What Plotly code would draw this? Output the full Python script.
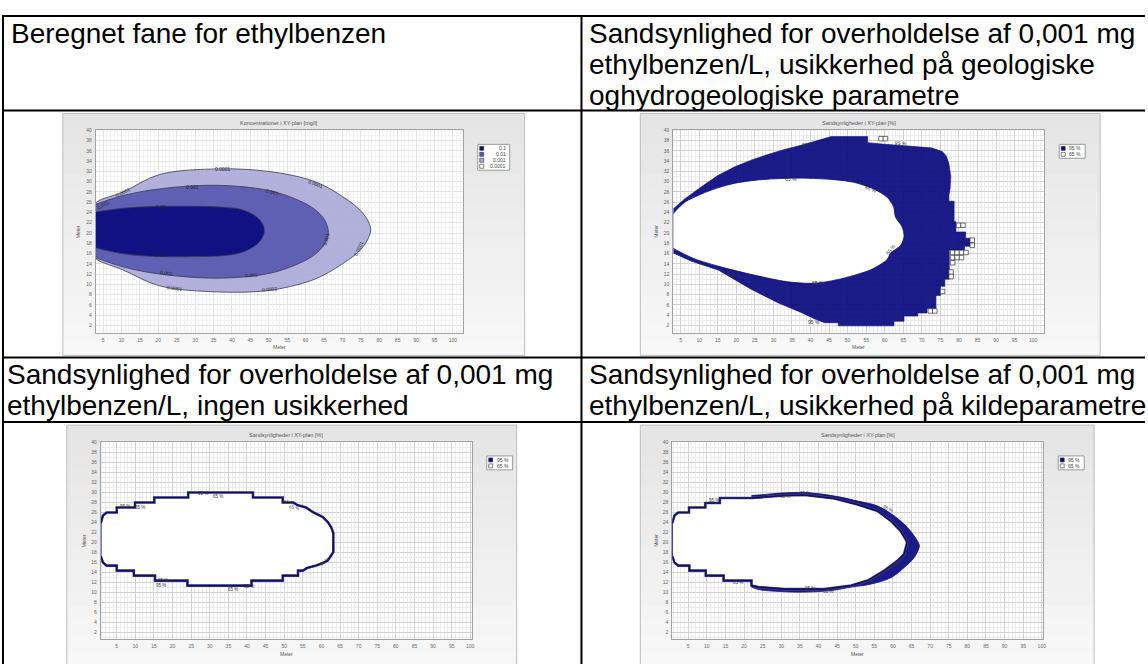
import plotly.graph_objects as go

W, H = 1148, 664

# ---------------- data ----------------
# Header texts of the 2x2 table
row1_left = ["Beregnet fane for ethylbenzen"]
row1_right = ["Sandsynlighed for overholdelse af 0,001 mg",
              "ethylbenzen/L, usikkerhed på geologiske",
              "oghydrogeologiske parametre"]
row2_left = ["Sandsynlighed for overholdelse af 0,001 mg",
             "ethylbenzen/L, ingen usikkerhed"]
row2_right = ["Sandsynlighed for overholdelse af 0,001 mg",
              "ethylbenzen/L, usikkerhed på kildeparametre"]

title_conc = "Koncentrationer i XY-plan [mg/l]"
title_prob = "Sandsynligheder i XY-plan [%]"
axis_title = "Meter"

# Chart 1: concentration contours (x in m, upper / lower edge in m)
c1_x_0001 = [3, 4.1, 10.4, 20.3, 36.6, 50, 61, 66.2, 70, 73.2, 75.6, 77.0, 77.7]
c1_top_0001 = [25.9, 26.4, 28.0, 31.4, 32.5, 32.0, 30.4, 28.8, 27.1, 25.5, 23.8, 22.3, 20.6]
c1_bot_0001 = [15.0, 14.5, 12.8, 9.7, 8.5, 8.8, 10.6, 12.3, 14.0, 15.6, 17.3, 18.9, 20.6]
c1_x_001 = [3, 10.4, 20.3, 36, 50, 58, 62.5, 65.2, 66.2]
c1_top_001 = [25.6, 27.3, 28.6, 29.3, 28.3, 26.4, 24.6, 22.5, 20.0]
c1_bot_001 = [15.2, 13.4, 12.0, 11.2, 12.1, 14.0, 15.8, 17.9, 20.0]
c1_x_01 = [3, 10, 20, 30, 38, 43.4, 47.5, 48.8]
c1_top_01 = [24.1, 24.8, 25.2, 25.2, 25.0, 24.4, 22.6, 20.5]
c1_bot_01 = [17.1, 16.0, 15.4, 15.4, 15.6, 16.4, 18.3, 20.5]
c1_legend = ["0.1", "0.01", "0.001", "0.0001"]
c1_labels = [("0.0001", 37.5, 32.5, 0), ("0.0001", 10.4, 28.0, -25),
             ("0.0001", 62.8, 29.6, 20), ("0.0001", 74.5, 17.0, -65),
             ("0.0001", 24.4, 9.2, 8), ("0.0001", 50.2, 9.0, -5),
             ("0.001", 29.4, 29.0, 0), ("0.001", 51.0, 28.0, 12),
             ("0.001", 5.0, 25.4, -30), ("0.001", 65.5, 18.9, -75),
             ("0.001", 22.2, 12.2, 8), ("0.001", 45.2, 11.9, -5),
             ("0.01", 20.8, 25.1, 0), ("0.01", 20.4, 15.7, 0)]

# Chart 2: 95 % area, geological / hydrogeological uncertainty
c2_outer_x = [3, 6, 10.6, 15, 19.6, 24, 28.5, 33, 37.5, 42, 45.6, 55.4, 55.4, 60,
              64.4, 68.9, 72.5, 75.5, 76.6, 77.3, 77.8, 77.6, 77.3, 77.3, 78.7, 78.7,
              79.2, 79.2, 81.8, 81.8, 83.0, 83.0, 81.5, 81.5, 77.4, 77.4, 76.2, 76.2,
              75.0, 75.0, 73.8, 73.8, 71.4, 71.4, 68.9, 68.9, 65.2, 65.2, 62.5, 62.5,
              47.5, 47.5, 43.8, 41, 37.5, 31.2, 24.1, 15.1, 7.9, 3]
c2_outer_y = [24.7, 26.6, 29.0, 31.2, 32.9, 34.2, 35.3, 36.3, 37.1, 38.0, 38.8, 38.8, 37.6, 37.3,
              37.1, 36.9, 36.6, 35.9, 35.0, 33.5, 31.0, 28.5, 27.4, 26.2, 26.2, 22.2,
              22.2, 20.2, 20.2, 19.0, 19.0, 17.4, 17.4, 16.7, 16.7, 11.0, 11.0, 9.6,
              9.6, 7.8, 7.8, 5.3, 5.3, 4.4, 4.4, 3.8, 3.8, 2.8, 2.8, 1.9,
              1.9, 2.5, 2.5, 3.3, 4.5, 6.4, 9.0, 12.8, 14.5, 16.1]
c2_inner_x = [3, 6.1, 10.6, 15.0, 19.6, 24.1, 28.5, 37.5, 46.4, 51.6, 57, 60.6, 62.4,
              62.9, 64.7, 65.2, 64.3, 61.6, 60.6, 56.1, 47.2, 40.9, 33.7, 24.8, 15.8, 8.6, 3]
c2_inner_y = [23.8, 26.0, 27.6, 28.8, 29.7, 30.2, 30.5, 30.7, 30.4, 29.9, 28.6, 27.0, 25.1,
              23.1, 21.2, 19.3, 17.6, 16.1, 14.8, 12.8, 10.9, 10.2, 10.5, 11.8, 13.4, 15.0, 17.0]
c2_cells_x = [59.0, 60.2, 79.9, 81.1, 83.6, 83.6, 78.3, 79.5, 80.7, 81.9, 78.3, 79.5,
              80.7, 78.3, 77.9, 77.9, 75.6, 72.3, 73.5]
c2_cells_y = [38.4, 38.4, 21.5, 21.5, 18.6, 17.6, 16.2, 16.2, 16.2, 16.2, 15.2, 15.2,
              15.2, 14.2, 12.4, 11.5, 8.6, 4.8, 4.8]
c2_labels = [("95 %", 39.3, 37.3, -8), ("95 %", 64.4, 37.5, 5), ("65 %", 34.8, 30.6, 0),
             ("65 %", 56.3, 28.6, 20), ("65 %", 61.7, 16.8, -50), ("65 %", 42.0, 10.2, 0),
             ("65 %", 19.6, 11.8, 10), ("95 %", 41.0, 2.6, 0)]

# Chart 3: no uncertainty, stepped 95 % outline
c3_x = [0.7, 1.3, 2.3, 5.0, 5.0, 9.9, 9.9, 15.1, 15.1, 24.2, 24.2, 41.6, 41.6, 49.6, 49.6,
        52.5, 53.5, 55.9, 57.7, 59.0, 60.4, 61.7, 62.6, 63.2, 63.2, 62.6, 61.7, 60.4,
        58.6, 56.1, 55.0, 53.7, 53.7, 49.6, 49.6, 41.2, 41.2, 24.0, 24.0, 15.3, 15.3,
        9.6, 9.6, 5.0, 5.0, 2.3, 1.3, 0.7]
c3_y = [23.8, 25.3, 25.9, 25.9, 26.9, 26.9, 27.9, 27.9, 28.9, 28.9, 29.9, 29.9, 28.9, 28.9, 27.9,
        27.9, 27.4, 26.9, 26.0, 25.5, 25.0, 24.0, 23.0, 21.8, 18.0, 17.3, 16.3, 15.8,
        15.3, 14.8, 14.3, 14.3, 13.3, 13.3, 12.3, 12.3, 11.3, 11.3, 12.3, 12.3, 13.3,
        13.3, 14.3, 14.3, 15.3, 15.3, 15.9, 17.2]
c3_labels = [("95 %", 28.2, 29.7, 0), ("65 %", 32.2, 29.2, 0), ("95 %", 7.2, 27.2, 0),
             ("65 %", 11.3, 27.0, 0), ("95 %", 51.4, 27.9, 10), ("65 %", 52.6, 26.9, 10),
             ("65 %", 17.5, 12.3, 0), ("95 %", 17.0, 11.4, 0), ("65 %", 36.3, 10.6, 0),
             ("95 %", 40.6, 11.1, 0), ("95 %", 60.8, 16.2, -40)]

# Chart 4: source-parameter uncertainty
c4_outer_x = [22, 25.5, 30, 36.3, 44.3, 50.5, 55.9, 60.4, 63.9, 66.6, 67.1, 65.7, 63,
              59.5, 54.1, 48.8, 43.4, 36.3, 30, 24, 22]
c4_outer_y = [29.3, 29.5, 29.8, 29.9, 29.2, 28.2, 27.2, 25.2, 22.9, 20.2, 19.2, 16.9, 14.9,
              12.9, 11.6, 11.0, 10.3, 10.0, 10.1, 10.5, 11.0]
c4_inner_x = [0.7, 1.3, 2.3, 5.2, 5.2, 9.6, 9.6, 13.5, 13.5, 22, 25.5, 30.9, 36.3, 44.3,
              50.5, 55.9, 59.5, 62.1, 63.4, 63.8, 63.4, 63, 61.3, 57.7, 53.2, 48.8, 41.6,
              30.9, 23.8, 22, 22, 14.5, 14.5, 9.7, 9.7, 5.3, 5.3, 2.3, 1.3, 0.7]
c4_inner_y = [23.8, 25.3, 25.9, 25.9, 26.9, 26.9, 27.8, 27.8, 28.8, 28.8, 29.0, 29.3, 29.4, 28.7,
              27.5, 26.2, 24.2, 22.2, 20.6, 19.9, 18.7, 17.6, 16.3, 14.3, 12.3, 11.3, 10.6,
              10.6, 11.0, 11.3, 12.3, 12.3, 13.3, 13.3, 14.3, 14.3, 15.3, 15.3, 15.9, 17.2]
c4_labels = [("95 %", 36.3, 29.8, 0), ("65 %", 30.9, 29.1, 0), ("95 %", 58.6, 26.7, 25),
             ("95 %", 60.4, 15.6, -40), ("65 %", 18.4, 12.0, 0), ("95 %", 37.6, 10.7, 0),
             ("65 %", 42.6, 10.1, 0), ("95 %", 12.0, 28.3, 0)]

p_legend = ["95 %", "65 %"]

# ---------------- styling / geometry ----------------
NAVY = "#0b0b80"
NAVY_FILL = "rgba(11,11,128,0.93)"
MID_FILL = "rgba(88,88,176,0.92)"
LIGHT_FILL = "rgba(170,170,216,0.92)"
FONT = "Liberation Sans, Arial, sans-serif"

# (left, top, right, bottom) in pixels: plot area and surrounding panel
charts = {
    1: dict(plot=(96, 128, 464, 331), panel=(63, 111, 526, 354), xr=[3, 102.7],
            grid="#e3e3e3", minor="#f2f2f2", title=title_conc),
    2: dict(plot=(675, 128, 1047, 331), panel=(642, 111, 1103, 354), xr=[3, 103],
            grid="#d2d2d2", minor="#ececec", title=title_prob),
    3: dict(plot=(101, 441, 473, 639), panel=(67, 424, 518, 666), xr=[0.7, 100.4],
            grid="#d2d2d2", minor="#ececec", title=title_prob),
    4: dict(plot=(674, 441, 1046, 639), panel=(642, 424, 1097, 666), xr=[0.7, 100.4],
            grid="#d2d2d2", minor="#ececec", title=title_prob),
}


def fx(p):
    return p / W


def fy(p):
    return 1 - p / H


def ids(n):
    return ("x", "y") if n == 1 else (f"x{n}", f"y{n}")


fig = go.Figure()
shapes = []
annotations = []


def ann(text, x, y, size, color="#555", xanchor="center", angle=0, ref=None):
    d = dict(text=text, showarrow=False, font=dict(family=FONT, size=size, color=color),
             xanchor=xanchor, yanchor="middle", textangle=angle)
    if ref is None:
        d.update(x=fx(x), y=fy(y), xref="paper", yref="paper")
    else:
        d.update(x=x, y=y, xref=ref[0], yref=ref[1])
    annotations.append(d)


def rect(l, t, r, b, fill=None, line=None, lw=0, layer="below"):
    shapes.append(dict(type="rect", xref="paper", yref="paper", x0=fx(l), x1=fx(r),
                       y0=fy(b), y1=fy(t), fillcolor=fill or "rgba(0,0,0,0)",
                       line=dict(color=line or "rgba(0,0,0,0)", width=lw), layer=layer))


# panels with a soft vertical gradient, white plot areas
for n, c in charts.items():
    l, t, r, b = c["panel"]
    steps = 16
    for i in range(steps):
        g = int(229 + (248 - 229) * i / (steps - 1))
        y0 = t + (b - t) * i / steps
        y1 = t + (b - t) * (i + 1) / steps + 0.6
        rect(l, y0, r, y1, fill=f"rgb({g},{g},{g})")
    rect(l, t, r, b, line="#bdbdbd", lw=1)
    pl, pt, pr, pb = c["plot"]
    rect(pl, pt, pr, pb, fill="white")

    xa, ya = ids(n)
    ax_common = dict(showline=True, mirror=True, linecolor="#a2a2a2", linewidth=1,
                     zeroline=False, ticks="", showgrid=True, gridwidth=1,
                     tickfont=dict(family=FONT, size=5, color="#666"))
    fig.update_layout(**{
        ("xaxis" if n == 1 else f"xaxis{n}"): dict(
            domain=[fx(pl), fx(pr)], range=c["xr"], anchor=ya, dtick=5, tick0=0,
            gridcolor=c["grid"], minor=dict(dtick=1, showgrid=True, gridcolor=c["minor"]),
            ticklabelstandoff=2, **ax_common),
        ("yaxis" if n == 1 else f"yaxis{n}"): dict(
            domain=[fy(pb), fy(pt)], range=[0.6, 40], anchor=xa, dtick=2, tick0=0,
            gridcolor=c["grid"], minor=dict(dtick=1, showgrid=True, gridcolor=c["minor"]),
            ticklabelstandoff=2, **ax_common),
    })
    # chart title and axis titles
    ann(c["title"], (pl + pr) / 2, pt - 7, 5.5)
    ann(axis_title, (pl + pr) / 2, pb + 15, 5)
    ann(axis_title, pl - 17, (pt + pb) / 2, 5, angle=-90)


def legend(n, labels, colors):
    pl, pt, pr, pb = charts[n]["plot"]
    x0, y0 = pr + 15, pt + 14
    w = 32 if len(labels) > 2 else 26
    h = 6 * len(labels) + 2
    rect(x0, y0, x0 + w, y0 + h, fill="white", line="#9a9a9a", lw=1, layer="above")
    for i, (lab, col) in enumerate(zip(labels, colors)):
        cy = y0 + 4 + 6 * i
        rect(x0 + 2, cy - 2, x0 + 6, cy + 2, fill=col, line="#333", lw=0.6, layer="above")
        ann(lab, x0 + w - 2, cy, 5, color="#444", xanchor="right")


legend(1, c1_legend, [NAVY, "#5858b0", "#aaaad8", "white"])
for n in (2, 3, 4):
    legend(n, p_legend, [NAVY, "white"])


def closed(xs, top, bot):
    return xs + xs[::-1][1:], top + bot[::-1][1:]


# ---------- chart 1: concentration plume ----------
for xs, top, bot, fill in [(c1_x_0001, c1_top_0001, c1_bot_0001, LIGHT_FILL),
                           (c1_x_001, c1_top_001, c1_bot_001, MID_FILL),
                           (c1_x_01, c1_top_01, c1_bot_01, NAVY_FILL)]:
    px_, py_ = closed(xs, top, bot)
    fig.add_trace(go.Scatter(x=px_, y=py_, mode="lines", fill="toself", fillcolor=fill,
                             line=dict(color="#3a3a55", width=0.8, shape="spline", smoothing=1),
                             hoverinfo="skip", xaxis="x", yaxis="y"))
for t, x, y, a in c1_labels:
    ann(t, x, y, 5, color="#222", angle=a, ref=("x", "y"))

# ---------- chart 2 ----------
fig.add_trace(go.Scatter(x=c2_outer_x, y=c2_outer_y, mode="lines", fill="toself",
                         fillcolor=NAVY_FILL, line=dict(color=NAVY, width=0.6),
                         hoverinfo="skip", xaxis="x2", yaxis="y2"))
fig.add_trace(go.Scatter(x=c2_inner_x, y=c2_inner_y, mode="lines", fill="toself",
                         fillcolor="white",
                         line=dict(color=NAVY, width=0.8, shape="spline", smoothing=0.8),
                         hoverinfo="skip", xaxis="x2", yaxis="y2"))
fig.add_trace(go.Scatter(x=c2_cells_x, y=c2_cells_y, mode="markers",
                         marker=dict(symbol="square", size=4.5, color="white",
                                     line=dict(color="#333", width=0.7)),
                         hoverinfo="skip", xaxis="x2", yaxis="y2"))
for t, x, y, a in c2_labels:
    ann(t, x, y, 5, color="#333", angle=a, ref=("x2", "y2"))

# ---------- chart 3 ----------
fig.add_trace(go.Scatter(x=c3_x, y=c3_y, mode="lines", fill="toself", fillcolor="white",
                         line=dict(color="#555", width=2.6), hoverinfo="skip",
                         xaxis="x3", yaxis="y3"))
fig.add_trace(go.Scatter(x=c3_x + c3_x[:1], y=c3_y + c3_y[:1], mode="lines",
                         line=dict(color=NAVY, width=1.6), hoverinfo="skip",
                         xaxis="x3", yaxis="y3"))
for t, x, y, a in c3_labels:
    ann(t, x, y, 4.5, color="#333", angle=a, ref=("x3", "y3"))

# ---------- chart 4 ----------
fig.add_trace(go.Scatter(x=c4_outer_x, y=c4_outer_y, mode="lines", fill="toself",
                         fillcolor=NAVY_FILL,
                         line=dict(color=NAVY, width=0.8, shape="spline", smoothing=1),
                         hoverinfo="skip", xaxis="x4", yaxis="y4"))
fig.add_trace(go.Scatter(x=c4_inner_x, y=c4_inner_y, mode="lines", fill="toself",
                         fillcolor="white", line=dict(color="#555", width=2.6),
                         hoverinfo="skip", xaxis="x4", yaxis="y4"))
fig.add_trace(go.Scatter(x=c4_inner_x + c4_inner_x[:1], y=c4_inner_y + c4_inner_y[:1],
                         mode="lines", line=dict(color=NAVY, width=1.6), hoverinfo="skip",
                         xaxis="x4", yaxis="y4"))
for t, x, y, a in c4_labels:
    ann(t, x, y, 4.5, color="#333", angle=a, ref=("x4", "y4"))

# ---------- table frame and headers ----------
for y in (13, 108, 356, 421):
    shapes.append(dict(type="line", xref="paper", yref="paper", x0=fx(2), x1=1,
                       y0=fy(y), y1=fy(y), line=dict(color="black", width=2), layer="above"))
for x in (3, 583):
    shapes.append(dict(type="line", xref="paper", yref="paper", x0=fx(x), x1=fx(x),
                       y0=fy(12), y1=0, line=dict(color="black", width=2), layer="above"))

for lines, x0, ys in [(row1_left, 9, [31]), (row1_right, 589, [31, 62, 93]),
                      (row2_left, 5, [373, 404]), (row2_right, 589, [373, 404])]:
    for text, y in zip(lines, ys):
        ann(text, x0, y, 28, color="black", xanchor="left")

fig.update_layout(width=W, height=H, margin=dict(l=0, r=0, t=0, b=0),
                  paper_bgcolor="white", plot_bgcolor="rgba(0,0,0,0)",
                  showlegend=False, shapes=shapes, annotations=annotations)

fig.write_html("out.html")
